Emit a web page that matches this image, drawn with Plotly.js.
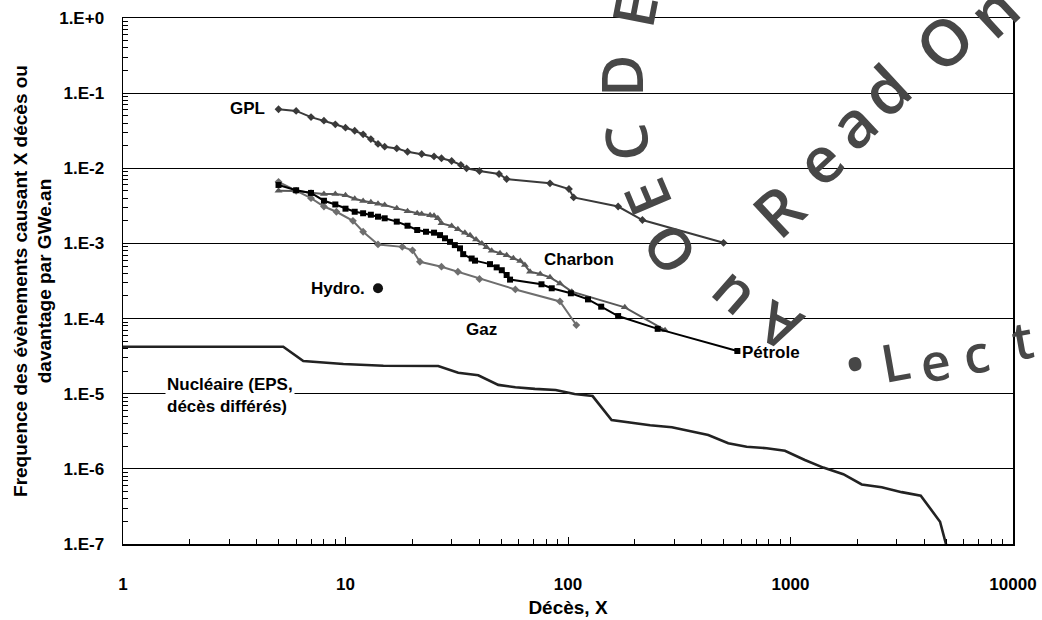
<!DOCTYPE html>
<html>
<head>
<meta charset="utf-8">
<script src="https://cdn.plot.ly/plotly-3.0.1.min.js"></script>
<style>html,body{margin:0;padding:0;background:#fff;}#chart{width:1042px;height:620px;}</style>
</head>
<body>
<div id="chart"></div>
<script>
// ---- Data ----
const xNucleaire = [1, 5.25, 6.46, 9.78, 14.8, 26.1, 32.1, 39.5, 48.6, 58, 71, 88, 107, 129, 157, 190, 234, 293, 347, 427, 525, 635, 782, 944, 1160, 1404, 1727, 2090, 2570, 3160, 3850, 4700, 5035];
const yNucleaire = [4.22e-5, 4.22e-5, 2.72e-5, 2.48e-5, 2.36e-5, 2.34e-5, 1.90e-5, 1.76e-5, 1.31e-5, 1.22e-5, 1.16e-5, 1.12e-5, 9.9e-6, 9.3e-6, 4.47e-6, 4.11e-6, 3.80e-6, 3.57e-6, 3.19e-6, 2.82e-6, 2.19e-6, 1.97e-6, 1.88e-6, 1.74e-6, 1.31e-6, 1.04e-6, 8.5e-7, 6.2e-7, 5.7e-7, 4.9e-7, 4.4e-7, 1.98e-7, 9.2e-8];

const xGPL = [5, 6, 7, 8, 9, 10, 11, 12, 13, 14, 15, 17, 19, 22, 25, 27, 30, 33, 35, 40, 49, 53, 83, 101, 106, 168, 216, 500];
const yGPL = [0.061, 0.058, 0.048, 0.043, 0.0385, 0.0347, 0.0316, 0.0283, 0.0245, 0.0211, 0.0194, 0.0184, 0.0166, 0.0155, 0.0144, 0.0136, 0.0125, 0.0111, 0.0100, 0.0092, 0.0084, 0.0072, 0.0063, 0.0053, 0.0041, 0.0031, 0.00205, 0.00102];

const xCharbon = [5, 6, 7, 8, 9, 10, 11, 12, 13, 14, 15, 17, 19, 21, 22, 24, 25, 26, 27, 30, 32, 34.4, 36.3, 38.6, 41, 43, 45.4, 49.5, 53, 56.8, 61, 64, 67.5, 75, 83, 92, 104, 180, 273];
const yCharbon = [0.00503, 0.0050, 0.00473, 0.00455, 0.00455, 0.00437, 0.00394, 0.00367, 0.00353, 0.00338, 0.00325, 0.00293, 0.00268, 0.00252, 0.00247, 0.00237, 0.00233, 0.00216, 0.00185, 0.00171, 0.00154, 0.00139, 0.00128, 0.00113, 0.00100, 0.000888, 0.000800, 0.000739, 0.000695, 0.000634, 0.000583, 0.000516, 0.00042, 0.000392, 0.000354, 0.000294, 0.000228, 0.000141, 7.0e-5];

const xPetrole = [5, 6, 7, 8, 9, 10, 11, 12, 13, 14, 15, 17, 19, 21, 23, 25, 26.6, 28, 29.5, 31, 32.7, 33.8, 36.9, 38.2, 44.6, 47.8, 50.4, 53, 54.9, 76, 84.5, 103, 123, 141, 168, 253, 577];
const yPetrole = [0.0060, 0.0051, 0.0047, 0.0037, 0.0033, 0.0029, 0.00264, 0.00252, 0.00241, 0.00227, 0.00216, 0.00195, 0.00172, 0.00151, 0.00143, 0.00139, 0.00129, 0.00117, 0.00105, 0.00095, 0.00086, 0.00072, 0.00063, 0.00059, 0.00053, 0.00048, 0.00044, 0.00038, 0.00033, 0.000286, 0.000253, 0.000217, 0.000180, 0.000144, 0.000108, 7.3e-5, 3.7e-5];

const xGaz = [5, 6, 7, 8, 9.1, 10.8, 12, 14, 18, 20, 21.6, 27, 32, 40, 58, 92, 109];
const yGaz = [0.0066, 0.0050, 0.0040, 0.0031, 0.00264, 0.0020, 0.00143, 0.00097, 0.00090, 0.00081, 0.00057, 0.00049, 0.00042, 0.000336, 0.000244, 0.000169, 8.2e-5];

const xHydro = [14];
const yHydro = [2.53e-4];

const xTickVals = [1, 10, 100, 1000, 10000];
const xTickText = ['1', '10', '100', '1000', '10000'];
const yTickVals = [1e-7, 1e-6, 1e-5, 1e-4, 1e-3, 1e-2, 1e-1, 1];
const yTickText = ['1.E-7', '1.E-6', '1.E-5', '1.E-4', '1.E-3', '1.E-2', '1.E-1', '1.E+0'];

// minor tick positions (2..9 within each decade)
function minorTicks(lo, hi) {
  const out = [];
  for (let e = lo; e < hi; e++) for (let m = 2; m <= 9; m++) out.push(m * Math.pow(10, e));
  return out;
}

const FONT = 'Liberation Sans Narrow, Arial Narrow, Liberation Sans, Arial, sans-serif';
const WM = 'Open Sans, DejaVu Sans, sans-serif';
const WMC = '#474747';

const traces = [
  {x: xNucleaire, y: yNucleaire, mode: 'lines', line: {color: '#222222', width: 2.6}, name: 'Nucléaire'},
  {x: xGaz, y: yGaz, mode: 'lines+markers', line: {color: '#6e6e6e', width: 2}, marker: {symbol: 'diamond', size: 6, color: '#6e6e6e'}, name: 'Gaz'},
  {x: xCharbon, y: yCharbon, mode: 'lines+markers', line: {color: '#585858', width: 2}, marker: {symbol: 'triangle-up', size: 7, color: '#585858'}, name: 'Charbon'},
  {x: xPetrole, y: yPetrole, mode: 'lines+markers', line: {color: '#000000', width: 2}, marker: {symbol: 'square', size: 6, color: '#000000'}, name: 'Pétrole'},
  {x: xGPL, y: yGPL, mode: 'lines+markers', line: {color: '#3a3a3a', width: 2}, marker: {symbol: 'diamond', size: 6, color: '#3a3a3a'}, name: 'GPL'},
  {x: xHydro, y: yHydro, mode: 'markers', marker: {symbol: 'circle', size: 10, color: '#111'}, name: 'Hydro.'}
];

// pixel -> paper helpers for watermark placement
const L = 123, T = 18, W = 890, H = 526;
const px = v => (v - L) / W;
const py = v => (T + H - v) / H;

function wm(ch, x, y, ang, size) {
  return {text: ch, x: px(x), y: py(y), xref: 'paper', yref: 'paper', showarrow: false,
    textangle: ang, font: {family: WM, size: size || 58, color: WMC, weight: 600}, xanchor: 'center', yanchor: 'middle'};
}

const lbl = (t, x, y, xa) => ({text: t, x: x, y: y, xref: 'x', yref: 'y', showarrow: false,
  xanchor: xa || 'center', yanchor: 'middle', font: {family: FONT, size: 17, color: '#000', weight: 'bold'}});

const annotations = [
  wm('E', 633, 10, -79), wm('D', 620, 76, -90), wm('C', 625, 143, -97), wm('E', 646, 198, -113),
  wm('O', 668, 250, -125), wm('u', 728, 300, -139), wm('A', 779, 328, -153),
  wm('R', 777, 210, -43, 64), wm('e', 818, 160, -43, 64), wm('a', 852, 124, -43, 64), wm('d', 885, 90, -43, 64),
  wm('O', 944, 42, -43, 64), wm('n', 992, 10, -43, 64),
  wm('•', 855, 362, -10, 52), wm('L', 895, 360, -10, 52), wm('e', 935, 360, -10, 52), wm('c', 976, 352, -10, 52), wm('t', 1022, 338, -10, 52),
  lbl('GPL', 0.645, -1.2, 'right'),
  lbl('Hydro.', 1.095, -3.6, 'right'),
  lbl('Gaz', 1.613, -4.14),
  lbl('Charbon', 2.05, -3.22),
  lbl('Pétrole', 2.775, -4.445, 'left'),
  Object.assign(lbl('Nucléaire (EPS,<br>décès différés)', 0.19, -5.02, 'left'), {bgcolor: '#ffffff', align: 'left'})
];

const layout = {
  width: 1042, height: 620,
  margin: {l: L, r: 1042 - L - W, t: T, b: 620 - T - H},
  paper_bgcolor: '#ffffff', plot_bgcolor: '#ffffff',
  showlegend: false,
  font: {family: FONT, color: '#000'},
  xaxis: {
    type: 'log', range: [0, 4], tickmode: 'array', tickvals: xTickVals, ticktext: xTickText,
    ticks: 'inside', ticklen: 7, tickcolor: '#000', tickwidth: 1,
    minor: {tickmode: 'array', tickvals: minorTicks(0, 4), ticks: 'inside', ticklen: 5, tickcolor: '#000', showgrid: false},
    showgrid: false, zeroline: false, showline: true, linecolor: '#000', linewidth: 1.5, mirror: true,
    tickfont: {family: FONT, size: 17, weight: 'bold'}, ticklabelstandoff: 24,
    title: {text: 'Décès, X', font: {family: FONT, size: 19, weight: 'bold'}, standoff: 8}
  },
  yaxis: {
    type: 'log', range: [-7, 0], tickmode: 'array', tickvals: yTickVals, ticktext: yTickText,
    ticks: 'inside', ticklen: 5, tickcolor: '#000', tickwidth: 1,
    minor: {tickmode: 'array', tickvals: minorTicks(-7, 0), ticks: 'inside', ticklen: 5, tickcolor: '#000', showgrid: false},
    showgrid: true, gridcolor: '#000', gridwidth: 1, zeroline: false,
    showline: true, linecolor: '#000', linewidth: 1.5, mirror: true,
    tickfont: {family: FONT, size: 17, weight: 'bold'}, ticklabelstandoff: 14,
    title: {text: 'Frequence des évènements causant X décès ou<br>davantage par GWe.an', font: {family: FONT, size: 19, weight: 'bold'}, standoff: 2}
  },
  annotations: annotations
};

Plotly.newPlot('chart', traces, layout, {staticPlot: true, displayModeBar: false});
</script>
</body>
</html>
